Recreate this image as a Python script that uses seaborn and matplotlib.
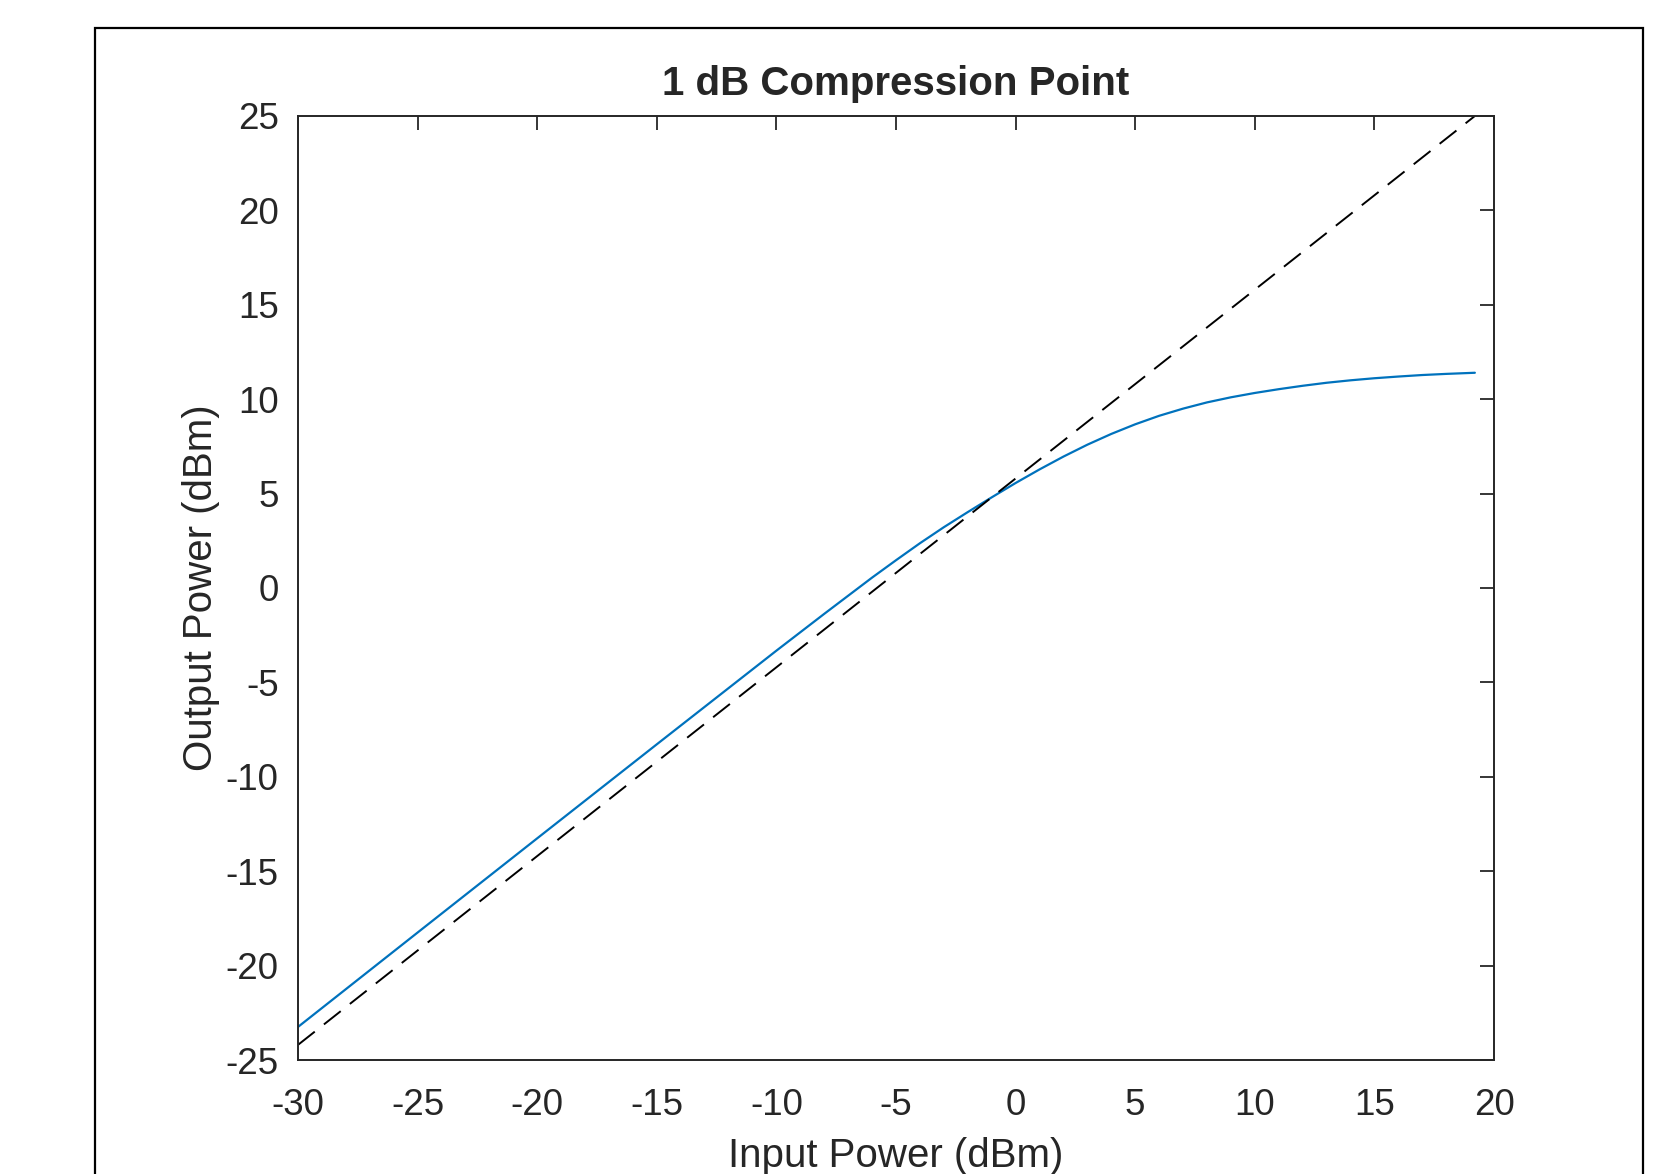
import matplotlib
matplotlib.use("Agg")
import matplotlib.pyplot as plt
import matplotlib.patches as patches
import pandas as pd
import seaborn as sns

# values
pin = [-30, -25, -20, -15, -10, -8, -6, -5, -4, -3, -2, -1, 0, 1, 2, 3, 4, 5,
       6, 7, 8, 9, 10, 11, 12, 13, 14, 15, 16, 17, 18, 19.2]
pout = [-23.25, -18.25, -13.26, -8.28, -3.32, -1.37, 0.55, 1.47, 2.37, 3.22,
        4.02, 4.8, 5.56, 6.28, 6.96, 7.59, 8.16, 8.67, 9.12, 9.5, 9.83, 10.1,
        10.33, 10.53, 10.71, 10.87, 11.0, 11.11, 11.2, 11.28, 11.34, 11.4]
ref_x = [-30, 19.2]
ref_y = [-24.2, 25.0]

xticks = [-30, -25, -20, -15, -10, -5, 0, 5, 10, 15, 20]
yticks = [-25, -20, -15, -10, -5, 0, 5, 10, 15, 20, 25]

sns.set_style("white")
plt.rcParams['font.family'] = ['Liberation Sans', 'DejaVu Sans']

fig = plt.figure(figsize=(16.6, 11.74), dpi=100)
ax = fig.add_axes([0.1795, 0.0971, 0.7205, 0.8041])

# outer frame around the figure
frame = patches.Rectangle((0.0572, -0.05), 0.9326, 0.9761 + 0.05, transform=fig.transFigure,
                          fill=False, edgecolor='black', linewidth=1.6, clip_on=False)
fig.patches.append(frame)

curve = pd.DataFrame({'Pin': pin, 'Pout': pout})
ref = pd.DataFrame({'Pin': ref_x, 'Pout': ref_y})

sns.lineplot(data=curve, x='Pin', y='Pout', color='#0072BD', linewidth=1.6, ax=ax)
sns.lineplot(data=ref, x='Pin', y='Pout', color='black', linewidth=1.4, ax=ax,
             dashes=False, linestyle=(0, (11, 6)))

ax.set_xlim(-30, 20)
ax.set_ylim(-25, 25)
ax.set_xticks(xticks)
ax.set_yticks(yticks)
ax.set_xticklabels([str(v) for v in xticks])
ax.set_yticklabels([str(v) for v in yticks])

ax.tick_params(direction='in', length=10, width=1.3, colors='#262626', labelsize=26.5,
               top=True, right=True)
ax.tick_params(axis='x', pad=20)
ax.tick_params(axis='y', pad=14)
for s in ax.spines.values():
    s.set_color('#262626')
    s.set_linewidth(1.4)

ax.set_xlabel('Input Power (dBm)', fontsize=29, color='#262626', labelpad=10)
ax.set_ylabel('Output Power (dBm)', fontsize=29, color='#262626', labelpad=4)
ax.set_title('1 dB Compression Point', fontsize=29, fontweight='bold', pad=15)

fig.savefig('out.png', dpi=100)
